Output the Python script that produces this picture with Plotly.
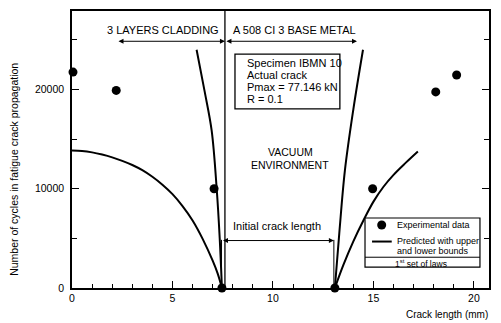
import plotly.graph_objects as go

# Experimental data (crack length mm, cycles)
exp_x = [0.05, 2.2, 7.07, 7.46, 13.08, 14.96, 18.1, 19.14]
exp_y = [21750, 19900, 10000, 0, 0, 10000, 19750, 21450]

# Predicted: lower bound arc (cladding side)
left_arc_x = [0.0, 0.5, 1.0, 1.5, 2.0, 2.5, 3.0, 3.5, 4.0, 4.5, 5.0, 5.5, 6.0, 6.5, 7.0, 7.25, 7.46]
left_arc_y = [13850, 13800, 13660, 13440, 13160, 12810, 12390, 11870, 11200, 10400, 9450, 8250, 6800, 4950, 2750, 1450, 0]
# Predicted: upper bound steep (cladding side)
left_steep_x = [6.2, 6.6, 6.95, 7.2, 7.35, 7.46]
left_steep_y = [24000, 19800, 15850, 10000, 5000, 0]
# Predicted: lower bound (base metal side)
right_arc_x = [13.08, 13.5, 14.0, 14.5, 15.0, 15.5, 16.0, 16.6, 17.21]
right_arc_y = [0, 2300, 4700, 6800, 8700, 10200, 11400, 12600, 13750]
# Predicted: upper bound steep (base metal side)
right_steep_x = [13.08, 13.3, 13.58, 14.0, 14.48]
right_steep_y = [0, 5500, 11850, 18000, 24000]

FONT = "Liberation Sans, Arial, sans-serif"
fig = go.Figure()

for xs, ys in [(left_arc_x, left_arc_y), (left_steep_x, left_steep_y),
               (right_arc_x, right_arc_y), (right_steep_x, right_steep_y)]:
    fig.add_trace(go.Scatter(x=xs, y=ys, mode="lines", line=dict(color="black", width=2, shape="spline"),
                             hoverinfo="skip"))

fig.add_trace(go.Scatter(x=exp_x, y=exp_y, mode="markers", cliponaxis=False,
                         marker=dict(color="black", size=9), hoverinfo="skip"))

shapes = []
# divider between cladding and base metal
shapes.append(dict(type="line", x0=7.61, x1=7.61, y0=0, y1=27900, line=dict(color="black", width=1.3)))
# initial crack length markers
shapes.append(dict(type="line", x0=7.44, x1=7.44, y0=0, y1=4850, line=dict(color="black", width=1)))
shapes.append(dict(type="line", x0=13.03, x1=13.03, y0=0, y1=4850, line=dict(color="black", width=1)))
# text box
shapes.append(dict(type="rect", x0=8.11, x1=13.33, y0=18050, y1=23550, line=dict(color="black", width=1.3),
                   fillcolor="white"))
# legend box
shapes.append(dict(type="rect", x0=14.58, x1=20.3, y0=2100, y1=7050, line=dict(color="black", width=1.2),
                   fillcolor="white"))
shapes.append(dict(type="line", x0=14.58, x1=20.3, y0=3100, y1=3100, line=dict(color="black", width=1)))
shapes.append(dict(type="line", x0=14.93, x1=15.91, y0=4680, y1=4680, line=dict(color="black", width=2)))
shapes.append(dict(type="circle", xsizemode="pixel", ysizemode="pixel", xanchor=15.41, yanchor=6350,
                   x0=-4.5, x1=4.5, y0=-4.5, y1=4.5, fillcolor="black", line=dict(color="black", width=0)))

ann = []
def arrow(x0, x1, y):
    ann.append(dict(x=x1, y=y, ax=x0, ay=y, xref="x", yref="y", axref="x", ayref="y", text="",
                    showarrow=True, arrowhead=2, arrowside="end+start", arrowsize=1, arrowwidth=1,
                    arrowcolor="black", standoff=0, startstandoff=0))
arrow(2.24, 7.61, 24850)
arrow(7.61, 14.18, 24850)
arrow(7.44, 13.03, 4780)

def txt(x, y, s, size=11, xanchor="center", xref="x", yref="y", angle=0, yanchor="middle"):
    ann.append(dict(x=x, y=y, xref=xref, yref=yref, text=s, showarrow=False, xanchor=xanchor, yanchor=yanchor,
                    textangle=angle, font=dict(family=FONT, size=size, color="black")))

txt(4.53, 25950, "3 LAYERS CLADDING")
txt(11.09, 25950, "A 508 CI 3 BASE METAL")
for i, s in enumerate(["Specimen IBMN 10", "Actual crack", "Pmax = 77.146 kN", "R = 0.1"]):
    txt(8.6, 22680 - i * 1220, s, xanchor="left")
txt(10.87, 13680, "VACUUM", size=10.5)
txt(10.87, 12350, "ENVIRONMENT", size=10.5)
txt(10.2, 6250, "Initial crack length")
txt(16.07, 6350, "Experimental data", size=9, xanchor="left")
txt(16.07, 4720, "Predicted with upper", size=9, xanchor="left")
txt(16.07, 3760, "and lower bounds", size=9, xanchor="left")
txt(15.97, 2420, "1<sup>st</sup> set of laws", size=8.5, xanchor="left")
# axis titles
txt((490 - 72) / 417, -27 / 279, "Crack length (mm)", size=10, xanchor="right", xref="paper", yref="paper")
txt(-58 / 417, (288 - 169) / 279, "Number of cycles in fatigue crack propagation", size=10.5,
    xref="paper", yref="paper", angle=-90, xanchor="center")

fig.update_layout(
    width=501, height=323, margin=dict(l=72, r=12, t=9, b=35),
    paper_bgcolor="white", plot_bgcolor="white", showlegend=False,
    shapes=shapes, annotations=ann,
    font=dict(family=FONT, size=10.5, color="black"),
    xaxis=dict(range=[0, 20.75], showgrid=False, zeroline=False, showline=True, linecolor="black", linewidth=1.5,
               mirror=True, ticks="inside", ticklen=7, tickwidth=1, tickcolor="black", dtick=5, tick0=0,
               minor=dict(dtick=1, ticks="inside", ticklen=4, tickcolor="black"),
               tickfont=dict(family=FONT, size=10.5)),
    yaxis=dict(range=[0, 27900], showgrid=False, zeroline=False, showline=True, linecolor="black", linewidth=1.5,
               mirror="ticks", ticks="inside", ticklen=7, tickwidth=1, tickcolor="black", dtick=10000, tick0=0,
               tickformat="d",
               minor=dict(dtick=5000, ticks="inside", ticklen=5, tickcolor="black"),
               tickfont=dict(family=FONT, size=10.5), ticklabelstandoff=4),
)

fig.write_html("out.html")
